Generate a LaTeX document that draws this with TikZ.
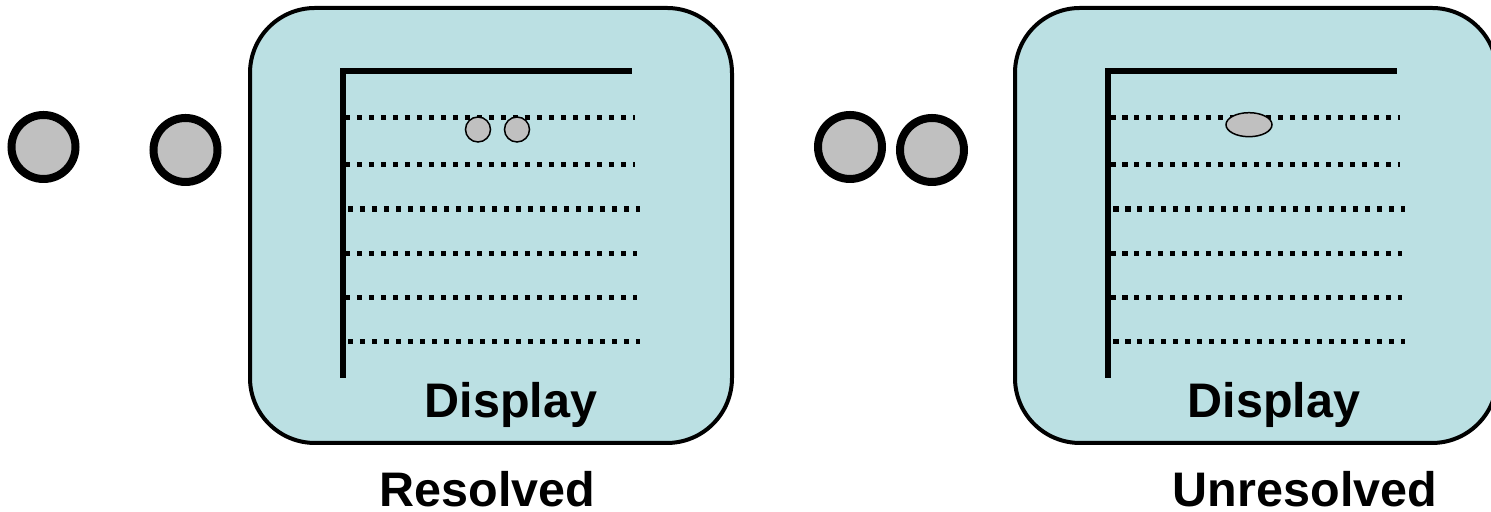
\documentclass[tikz,border=0pt]{standalone}
\usepackage{fontspec}
\setmainfont{Liberation Sans}
\usetikzlibrary{shapes.geometric}

\definecolor{screen}{RGB}{187,224,227}
\definecolor{bead}{RGB}{192,192,192}

\begin{document}
\begin{tikzpicture}[
    ball/.style = {circle, draw, line width=0.08cm, fill=bead,
                   minimum size=0.64cm, inner sep=0pt},
    spot/.style = {circle, draw, line width=0.015cm, fill=bead,
                   minimum size=0.25cm, inner sep=0pt},
    blob/.style = {ellipse, draw, line width=0.015cm, fill=bead,
                   minimum width=0.46cm, minimum height=0.24cm, inner sep=0pt},
    screenbox/.style = {rectangle, draw, line width=0.04cm, fill=screen,
                        rounded corners=0.65cm,
                        minimum width=4.82cm, minimum height=4.35cm},
    frame/.style = {line width=0.057cm, line join=miter},
    row/.style = {line width=0.055cm, dash pattern=on 0.055cm off 0.065cm},
    caption/.style = {anchor=base, font=\fontsize{13.8}{16}\selectfont\bfseries}]

    \useasboundingbox (0,0) rectangle (14.91,-5.12);
    \clip (0,0) rectangle (14.91,-5.12);

    % Separate pair of objects
    \node[ball] (a1) at (0.435,-1.47) {};
    \node[ball] (a2) at (1.855,-1.50) {};

    % Close pair of objects
    \node[ball] (b1) at (8.50,-1.47) {};
    \node[ball] (b2) at (9.32,-1.50) {};

    % Display screens
    \node[screenbox] (dispA) at (4.91,-2.255) {};
    \node[screenbox] (dispB) at (12.56,-2.255) {};

    % Axes and raster rows, left screen
    \draw[frame] (3.427,-3.78) -- (3.427,-0.71) -- (6.32,-0.71);
    \draw[row] (3.45,-1.177) -- (6.35,-1.177);
    \draw[row] (3.45,-1.643) -- (6.35,-1.643);
    \draw[row] (3.48,-2.090) -- (6.40,-2.090);
    \draw[row] (3.45,-2.533) -- (6.37,-2.533);
    \draw[row] (3.45,-2.977) -- (6.37,-2.977);
    \draw[row] (3.48,-3.417) -- (6.40,-3.417);

    % Axes and raster rows, right screen
    \begin{scope}[xshift=7.65cm]
        \draw[frame] (3.427,-3.78) -- (3.427,-0.71) -- (6.32,-0.71);
        \draw[row] (3.45,-1.177) -- (6.35,-1.177);
        \draw[row] (3.45,-1.643) -- (6.35,-1.643);
        \draw[row] (3.48,-2.090) -- (6.40,-2.090);
        \draw[row] (3.45,-2.533) -- (6.37,-2.533);
        \draw[row] (3.45,-2.977) -- (6.37,-2.977);
        \draw[row] (3.48,-3.417) -- (6.40,-3.417);
    \end{scope}

    % Images on the screens
    \node[spot] (sa1) at (4.78,-1.295) {};
    \node[spot] (sa2) at (5.17,-1.295) {};
    \node[blob] (sb) at (12.49,-1.247) {};

    % Labels
    \node[caption] (lblA) at (5.11,-4.18) {Display};
    \node[caption] (lblB) at (12.74,-4.18) {Display};
    \node[caption] (capA) at (4.875,-5.07) {Resolved};
    \node[caption] (capB) at (13.05,-5.07) {Unresolved};

\end{tikzpicture}
\end{document}
